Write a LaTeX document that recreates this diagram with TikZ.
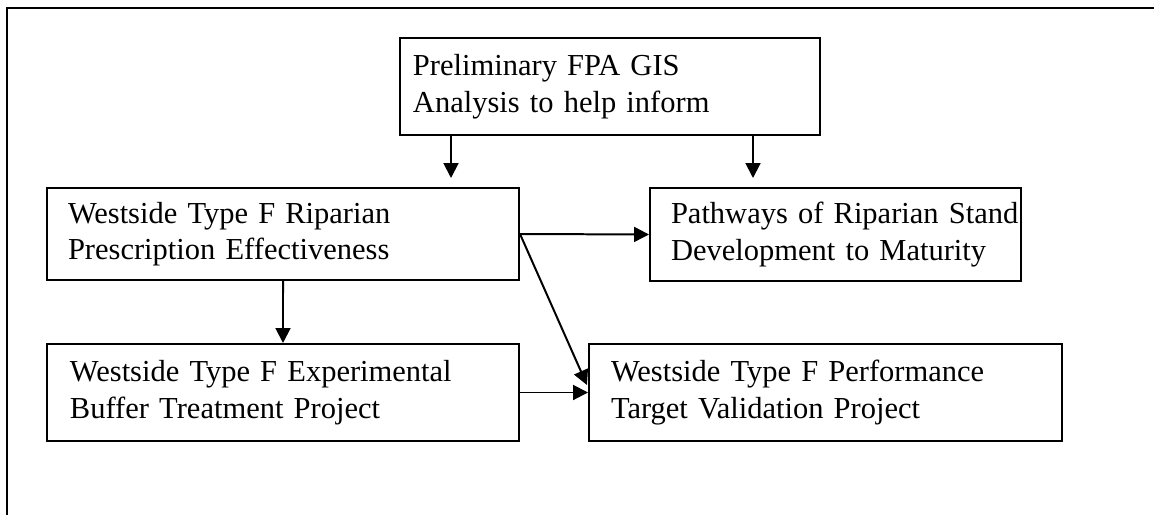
\documentclass[tikz,border=0pt]{standalone}
\usepackage{fontspec}
\setmainfont{Liberation Serif}
\usetikzlibrary{arrows.meta}
\begin{document}
\begin{tikzpicture}[x=0.377pt,y=-0.377pt,
  box/.style={draw, line width=0.75pt, anchor=north west, align=left, inner ysep=0pt,
    font=\fontsize{11.5pt}{13.8pt}\selectfont},
  arr/.style={line width=0.75pt, -{Triangle[length=5.6pt,width=5.6pt]}}]
\useasboundingbox (0,0) rectangle (1154,515);
\draw[line width=1pt] (7,515) -- (7,8) -- (1154,8);
\node[box, minimum width=158.34pt, minimum height=36.57pt, inner xsep=4.9pt, text width=148.54pt] (A) at (399,37)
  {\mbox{Preliminary FPA GIS}\\\mbox{Analysis to help inform}};
\node[box, minimum width=177.94pt, minimum height=34.68pt, inner xsep=7.92pt, text width=162.11pt] (B) at (46,187)
  {\mbox{Westside Type F Riparian}\\\mbox{Prescription Effectiveness}};
\node[box, minimum width=139.87pt, minimum height=35.06pt, inner xsep=7.92pt, text width=124.03pt] (C) at (649,187)
  {\mbox{Pathways of Riparian Stand}\\\mbox{Development to Maturity}};
\node[box, minimum width=177.94pt, minimum height=36.57pt, inner xsep=8.67pt, text width=160.6pt] (D) at (46,343)
  {\mbox{Westside Type F Experimental}\\\mbox{Buffer Treatment Project}};
\node[box, minimum width=178.32pt, minimum height=36.57pt, inner xsep=8.29pt, text width=161.73pt] (E) at (588,343)
  {\mbox{Westside Type F Performance}\\\mbox{Target Validation Project}};
\coordinate (ta) at (451,178);
\coordinate (tc) at (753,178);
\coordinate (te) at (587,385);
\draw[arr] (A.south -| ta) -- (ta);
\draw[arr] (A.south -| tc) -- (tc);
\draw[arr] (B.east) -- (C.west);
\draw[arr] (B.east) -- (te);
\draw[arr] (B.south) -- (D.north);
\draw[arr] (D.east) -- (E.west);
\end{tikzpicture}
\end{document}
